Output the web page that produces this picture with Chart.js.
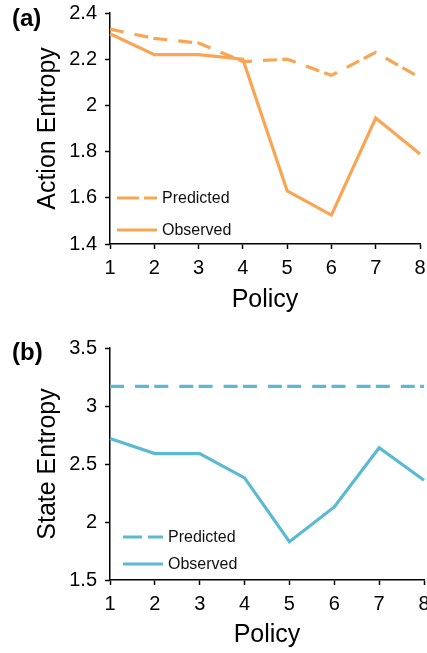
<!DOCTYPE html>
<html>
<head>
<meta charset="utf-8">
<script src="https://cdn.jsdelivr.net/npm/chart.js@4/dist/chart.umd.min.js"></script>
<style>
  html, body { margin: 0; padding: 0; background: #fff; width: 427px; height: 653px; overflow: hidden; }
  canvas { position: absolute; left: 0; display: block; }
  #panelA { top: 0; }
  #panelB { top: 325px; }
</style>
</head>
<body>
<canvas id="panelA" width="427" height="325"></canvas>
<canvas id="panelB" width="440" height="328"></canvas>
<script>
// Policies on the x axis
const policies = ['1', '2', '3', '4', '5', '6', '7', '8'];

// (a) action entropy per policy
const actionPredicted = [2.33, 2.29, 2.27, 2.19, 2.20, 2.13, 2.23, 2.12];
const actionObserved  = [2.31, 2.22, 2.22, 2.20, 1.63, 1.525, 1.945, 1.79];

// (b) state entropy per policy
const statePredicted = [3.17, 3.17, 3.17, 3.17, 3.17, 3.17, 3.17, 3.17];
const stateObserved  = [2.72, 2.59, 2.59, 2.38, 1.83, 2.13, 2.64, 2.36];

const seriesNames = ['Predicted', 'Observed'];

const ORANGE = '#F9A553';
const BLUE = '#5BBAD3';
const FONT = "'Liberation Sans', Arial, Helvetica, sans-serif";

// Panel tag "(a)/(b)" plus an in-plot legend at the lower left
const panelDecor = {
  id: 'panelDecor',
  afterDraw(chart, args, opts) {
    const ctx = chart.ctx;
    const area = chart.chartArea;
    ctx.save();
    ctx.fillStyle = '#000';
    ctx.textAlign = 'left';
    ctx.textBaseline = 'middle';
    ctx.font = 'bold 24px ' + FONT;
    ctx.fillText(opts.tag, opts.tagX, opts.tagY);

    ctx.font = '16px ' + FONT;
    chart.data.datasets.forEach((ds, i) => {
      const y = area.bottom - opts.rows[i];
      const x0 = area.left + opts.sampleStart;
      ctx.strokeStyle = ds.borderColor;
      ctx.lineWidth = ds.borderWidth;
      ctx.lineCap = 'butt';
      ctx.setLineDash(ds.borderDash && ds.borderDash.length ? opts.sampleDash : []);
      ctx.beginPath();
      ctx.moveTo(x0, y);
      ctx.lineTo(x0 + opts.sampleLen, y);
      ctx.stroke();
      ctx.setLineDash([]);
      ctx.fillStyle = '#111';
      ctx.fillText(ds.label, area.left + opts.textStart, y + 1);
    });
    ctx.restore();
  }
};

function axisGrid() {
  return {
    drawOnChartArea: false,
    drawTicks: true,
    tickLength: 5,
    tickColor: '#000',
    tickWidth: 1.5
  };
}

// Fixed axis boxes so the plot area sits exactly where the layout padding puts it
function pinScale(scale, key, size) {
  scale[key] = size;
  scale.paddingLeft = 0;
  scale.paddingRight = 0;
  scale.paddingTop = 0;
  scale.paddingBottom = 0;
}

function makePanel(canvasId, cfg) {
  return new Chart(document.getElementById(canvasId), {
    type: 'line',
    data: {
      labels: policies,
      datasets: [
        {
          label: seriesNames[0],
          data: cfg.predicted,
          borderColor: cfg.color,
          borderWidth: 3.2,
          borderDash: [14, 11, 14, 5.3],
          pointRadius: 0,
          tension: 0,
          fill: false,
          order: 1
        },
        {
          label: seriesNames[1],
          data: cfg.observed,
          borderColor: cfg.color,
          borderWidth: 3.2,
          pointRadius: 0,
          tension: 0,
          fill: false,
          order: 0
        }
      ]
    },
    options: {
      responsive: false,
      animation: false,
      devicePixelRatio: 1,
      layout: { padding: cfg.padding },
      plugins: {
        legend: { display: false },
        tooltip: { enabled: false },
        panelDecor: cfg.decor
      },
      scales: {
        x: {
          type: 'category',
          offset: false,
          grid: axisGrid(),
          border: { color: '#000', width: 1.5 },
          ticks: { color: '#000', font: { family: FONT, size: 20 }, padding: 7, maxRotation: 0, autoSkip: false },
          title: { display: true, text: 'Policy', color: '#000', font: { family: FONT, size: 25 }, padding: { top: 0, bottom: cfg.xTitlePad } },
          afterFit(scale) { pinScale(scale, 'height', cfg.xHeight); }
        },
        y: {
          min: cfg.yMin,
          max: cfg.yMax,
          grid: axisGrid(),
          border: { color: '#000', width: 1.5 },
          ticks: {
            stepSize: cfg.step,
            color: '#000',
            font: { family: FONT, size: 20 },
            padding: 8,
            callback: v => String(Number(v.toFixed(2)))
          },
          title: { display: true, text: cfg.yTitle, color: '#000', font: { family: FONT, size: 25 }, padding: { top: 33, bottom: 0 } },
          afterFit(scale) { pinScale(scale, 'width', 110); }
        }
      }
    },
    plugins: [panelDecor]
  });
}

makePanel('panelA', {
  predicted: actionPredicted,
  observed: actionObserved,
  color: ORANGE,
  yMin: 1.4, yMax: 2.4, step: 0.2,
  yTitle: 'Action Entropy',
  padding: { left: 0, right: 7, top: 13, bottom: 0 },
  xHeight: 81,
  xTitlePad: 10,
  decor: { tag: '(a)', tagX: 12, tagY: 19, rows: [46, 14], sampleStart: 7, sampleLen: 40, sampleDash: [22, 5], textStart: 52 }
});

makePanel('panelB', {
  predicted: statePredicted,
  observed: stateObserved,
  color: BLUE,
  yMin: 1.5, yMax: 3.5, step: 0.5,
  yTitle: 'State Entropy',
  padding: { left: 0, right: 16, top: 23, bottom: 0 },
  xHeight: 73,
  xTitlePad: 3,
  decor: { tag: '(b)', tagX: 12, tagY: 28, rows: [43, 16], sampleStart: 13, sampleLen: 40, sampleDash: [19, 6], textStart: 58 }
});
</script>
</body>
</html>
